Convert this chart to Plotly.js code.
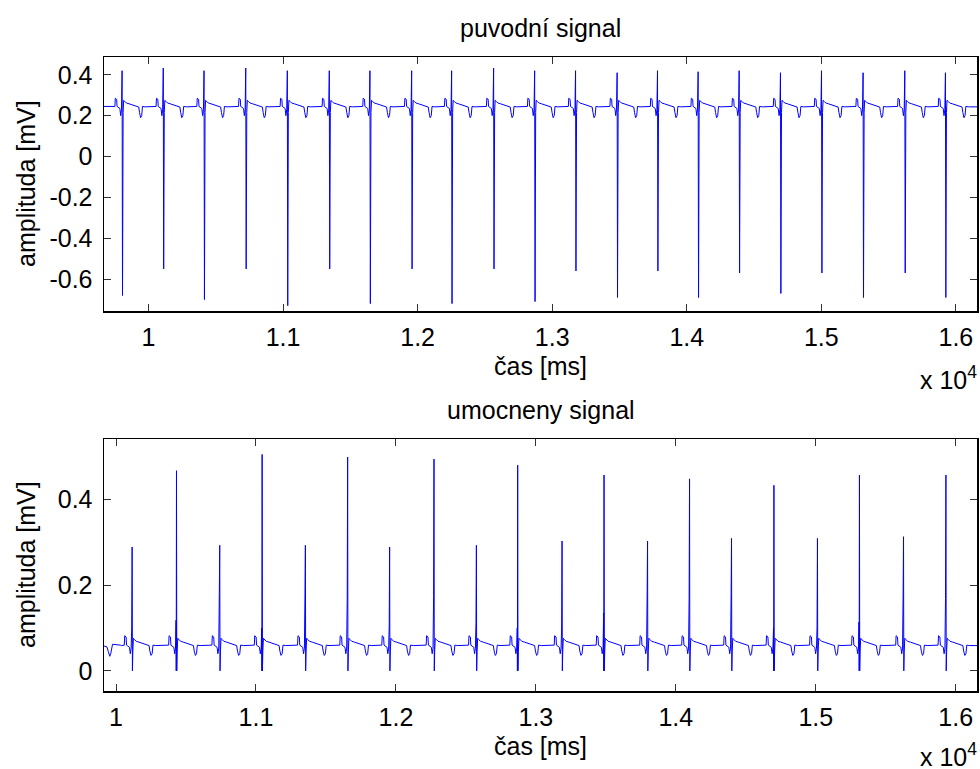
<!DOCTYPE html>
<html>
<head>
<meta charset="utf-8">
<script src="https://cdn.plot.ly/plotly-3.0.1.min.js"></script>
<style>html,body{margin:0;padding:0;background:#fff;}#chart{width:980px;height:769px;}</style>
</head>
<body>
<div id="chart"></div>
<script>
// ---------- data ----------
// top panel: original ECG (puvodní signal)
const topBeatTimes = [9805, 10111, 10414, 10724, 11033, 11345, 11647, 11957, 12254, 12566, 12871, 13175, 13484, 13784, 14086, 14391, 14698, 15003, 15312, 15622, 15924];
const topRPeaks    = [0.42, 0.433, 0.42, 0.433, 0.42, 0.42, 0.42, 0.42, 0.42, 0.433, 0.42, 0.42, 0.41, 0.42, 0.415, 0.42, 0.41, 0.42, 0.41, 0.42, 0.41];
const topSTroughs  = [-0.68, -0.55, -0.70, -0.55, -0.73, -0.55, -0.72, -0.55, -0.72, -0.55, -0.71, -0.56, -0.69, -0.56, -0.69, -0.57, -0.67, -0.57, -0.69, -0.57, -0.69];
// wave shape around each beat (ms offset from the QRS, mV)
const topPreOffsets  = [-75, -55, -52, -42, -39, -30, -18, -12, -6];
const topPreValues   = [0.242, 0.245, 0.285, 0.28, 0.245, 0.24, 0.235, 0.2, 0.23];
const topPostOffsets = [6, 10, 18, 30, 50, 75, 100, 122, 128, 136, 144, 150, 170, 225];
const topPostValues  = [0.215, 0.275, 0.27, 0.262, 0.258, 0.252, 0.247, 0.242, 0.215, 0.19, 0.2, 0.245, 0.243, 0.243];
const topLeadTimes = [9669, 9700];
const topLeadValues = [0.245, 0.245];
const topTailTimes = [16157];
const topTailValues = [0.243];

// bottom panel: squared signal (umocneny signal)
const botBeatTimes = [10114, 10431, 10740, 11043, 11352, 11654, 11954, 12271, 12574, 12869, 13186, 13486, 13797, 14097, 14397, 14700, 15011, 15311, 15626, 15929];
const botBigPeaks   = [0.289, 0.467, 0.293, 0.505, 0.293, 0.499, 0.289, 0.494, 0.293, 0.480, 0.303, 0.457, 0.303, 0.448, 0.309, 0.433, 0.309, 0.457, 0.313, 0.457];
const botSmallPeaks = [0.10, 0.118, 0.181, 0.10, 0.178, 0.17, 0.107, 0.173, 0.112, 0.10, 0.10, 0.135, 0.177, 0.169, 0.178, 0.10, 0.10, 0.114, 0.178, 0.169];
const botZeroLevel = 0;
const botPreOffsets  = [-75, -55, -52, -42, -39, -30, -18, -12, -6];
const botPreValues   = [0.059, 0.06, 0.082, 0.079, 0.06, 0.058, 0.055, 0.04, 0.053];
const botPostOffsets = [6, 10, 18, 30, 50, 75, 100, 122, 128, 136, 144, 150, 170, 225];
const botPostValues  = [0.046, 0.076, 0.073, 0.069, 0.067, 0.064, 0.061, 0.059, 0.046, 0.036, 0.04, 0.06, 0.059, 0.059];
const botLeadTimes  = [9914, 9935, 9945, 9955, 9962, 9975, 10030];
const botLeadValues = [0.058, 0.056, 0.045, 0.034, 0.04, 0.062, 0.06];

// axis ticks
const xTickVals = [10000, 11000, 12000, 13000, 14000, 15000, 16000];
const xTickText = ['1', '1.1', '1.2', '1.3', '1.4', '1.5', '1.6'];
const topYTickVals = [-0.6, -0.4, -0.2, 0, 0.2, 0.4];
const topYTickText = ['-0.6', '-0.4', '-0.2', '0', '0.2', '0.4'];
const botYTickVals = [0, 0.2, 0.4];
const botYTickText = ['0', '0.2', '0.4'];

// ---------- assemble traces ----------
function assembleTop() {
  const x = [...topLeadTimes], y = [...topLeadValues];
  topBeatTimes.forEach((t, i) => {
    topPreOffsets.forEach((o, j) => { x.push(t + o); y.push(topPreValues[j]); });
    x.push(t - 1.5); y.push(topRPeaks[i]);
    x.push(t + 1.5); y.push(topSTroughs[i]);
    topPostOffsets.forEach((o, j) => { x.push(t + o); y.push(topPostValues[j]); });
  });
  topTailTimes.forEach((t, j) => { x.push(t); y.push(topTailValues[j]); });
  return {x, y};
}
function assembleBottom() {
  const x = [...botLeadTimes], y = [...botLeadValues];
  botBeatTimes.forEach((t, i) => {
    botPreOffsets.forEach((o, j) => { x.push(t + o); y.push(botPreValues[j]); });
    x.push(t - 2); y.push(botSmallPeaks[i]);
    x.push(t - 1); y.push(botZeroLevel);
    x.push(t + 1); y.push(botBigPeaks[i]);
    x.push(t + 3); y.push(botZeroLevel);
    botPostOffsets.forEach((o, j) => { x.push(t + o); y.push(botPostValues[j]); });
  });
  return {x, y};
}
const topSeries = assembleTop();
const botSeries = assembleBottom();

const FONT = 'Liberation Sans, Arial, Helvetica, sans-serif';
const FS = 25;
const lineStyle = {color: '#0000ff', width: 1};

const traces = [
  {type: 'scatter', mode: 'lines', x: topSeries.x, y: topSeries.y, xaxis: 'x', yaxis: 'y', line: lineStyle, hoverinfo: 'x+y', showlegend: false},
  {type: 'scatter', mode: 'lines', x: botSeries.x, y: botSeries.y, xaxis: 'x2', yaxis: 'y2', line: lineStyle, hoverinfo: 'x+y', showlegend: false}
];

const W = 980, H = 769, L = 104, R = 3;
const px2x = p => (p - L) / (W - L - R);
const py2y = p => 1 - p / H;

const axisCommon = {
  showgrid: false, zeroline: false, showline: true, linecolor: '#000', linewidth: 1.5,
  mirror: 'allticks', ticks: 'inside', ticklen: 7, tickwidth: 1, tickcolor: '#333',
  tickfont: {family: FONT, size: FS, color: '#000'}, tickmode: 'array', fixedrange: true
};

const layout = {
  width: W, height: H,
  margin: {l: L, r: R, t: 0, b: 0},
  paper_bgcolor: '#fff', plot_bgcolor: '#fff',
  font: {family: FONT, size: FS, color: '#000'},
  showlegend: false,
  xaxis: Object.assign({}, axisCommon, {domain: [0, 1], anchor: 'y', range: [9669, 16157], tickvals: xTickVals, ticktext: xTickText, ticklabelstandoff: 3}),
  yaxis: Object.assign({}, axisCommon, {domain: [py2y(311), py2y(57)], anchor: 'x', range: [-0.756, 0.487], tickvals: topYTickVals, ticktext: topYTickText, ticklabelstandoff: 5}),
  xaxis2: Object.assign({}, axisCommon, {domain: [0, 1], anchor: 'y2', range: [9914, 16152], tickvals: xTickVals, ticktext: xTickText, ticklabelstandoff: 3}),
  yaxis2: Object.assign({}, axisCommon, {domain: [py2y(691), py2y(439)], anchor: 'x2', range: [-0.047, 0.541], tickvals: botYTickVals, ticktext: botYTickText, ticklabelstandoff: 5}),
  annotations: [
    {text: 'puvodní signal', xref: 'paper', yref: 'paper', x: 0.5, y: py2y(28), xanchor: 'center', yanchor: 'middle', showarrow: false, font: {family: FONT, size: FS, color: '#000'}},
    {text: 'umocneny signal', xref: 'paper', yref: 'paper', x: 0.5, y: py2y(410), xanchor: 'center', yanchor: 'middle', showarrow: false, font: {family: FONT, size: FS, color: '#000'}},
    {text: 'čas [ms]', xref: 'paper', yref: 'paper', x: 0.5, y: py2y(366), xanchor: 'center', yanchor: 'middle', showarrow: false, font: {family: FONT, size: FS, color: '#000'}},
    {text: 'čas [ms]', xref: 'paper', yref: 'paper', x: 0.5, y: py2y(746), xanchor: 'center', yanchor: 'middle', showarrow: false, font: {family: FONT, size: FS, color: '#000'}},
    {text: 'x 10<sup>4</sup>', xref: 'paper', yref: 'paper', x: px2x(979), y: py2y(378), xanchor: 'right', yanchor: 'middle', showarrow: false, font: {family: FONT, size: FS, color: '#000'}},
    {text: 'x 10<sup>4</sup>', xref: 'paper', yref: 'paper', x: px2x(979), y: py2y(755), xanchor: 'right', yanchor: 'middle', showarrow: false, font: {family: FONT, size: FS, color: '#000'}},
    {text: 'amplituda [mV]', xref: 'paper', yref: 'paper', x: px2x(26), y: py2y(184), xanchor: 'center', yanchor: 'middle', textangle: -90, showarrow: false, font: {family: FONT, size: FS, color: '#000'}},
    {text: 'amplituda [mV]', xref: 'paper', yref: 'paper', x: px2x(26), y: py2y(565), xanchor: 'center', yanchor: 'middle', textangle: -90, showarrow: false, font: {family: FONT, size: FS, color: '#000'}}
  ]
};

Plotly.newPlot('chart', traces, layout, {staticPlot: true, displayModeBar: false});
</script>
</body>
</html>
